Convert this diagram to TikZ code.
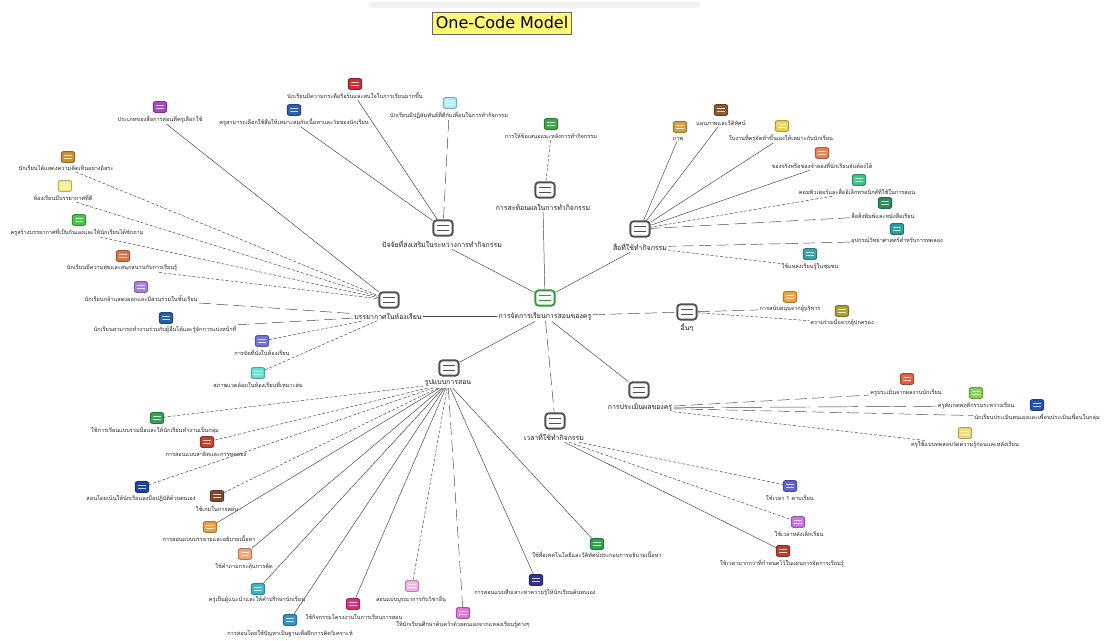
\documentclass[tikz,border=0pt]{standalone}
\usepackage{fontspec}
\newfontfamily\thaifont[Script=Thai]{Loma}
\newfontfamily\titlefont{DejaVu Sans}
\definecolor{hubgray}{HTML}{505050}
\definecolor{hubgreen}{HTML}{2E9A34}
\definecolor{cPurple}{HTML}{A848C8}
\definecolor{cBlueA}{HTML}{2E60B4}
\definecolor{cRedA}{HTML}{C8323C}
\definecolor{cCyanA}{HTML}{B0F0FA}
\definecolor{cGreenB}{HTML}{40A848}
\definecolor{cE1}{HTML}{C8923A}
\definecolor{cE2}{HTML}{F8F088}
\definecolor{cE3}{HTML}{48C848}
\definecolor{cE4}{HTML}{E07448}
\definecolor{cE5}{HTML}{A884E0}
\definecolor{cE6}{HTML}{2462A4}
\definecolor{cE7}{HTML}{7474E0}
\definecolor{cE8}{HTML}{66E6D6}
\definecolor{cC1}{HTML}{D4A444}
\definecolor{cC2}{HTML}{8C5C30}
\definecolor{cC3}{HTML}{F2D650}
\definecolor{cC4}{HTML}{EA8454}
\definecolor{cC5}{HTML}{44C486}
\definecolor{cC6}{HTML}{2E8C5C}
\definecolor{cC7}{HTML}{2E9EA0}
\definecolor{cC8}{HTML}{3CA4AC}
\definecolor{cD1}{HTML}{F2A444}
\definecolor{cD2}{HTML}{A8A434}
\definecolor{cH1}{HTML}{E06444}
\definecolor{cH2}{HTML}{88D458}
\definecolor{cH3}{HTML}{2454B4}
\definecolor{cH4}{HTML}{F4DC7C}
\definecolor{cF1}{HTML}{34A454}
\definecolor{cF2}{HTML}{C44434}
\definecolor{cF3}{HTML}{2444A4}
\definecolor{cF4}{HTML}{7C4C2C}
\definecolor{cF5}{HTML}{EAA444}
\definecolor{cF6}{HTML}{F2A878}
\definecolor{cF7}{HTML}{44B4CC}
\definecolor{cF8}{HTML}{3494C4}
\definecolor{cF9}{HTML}{D43484}
\definecolor{cF10}{HTML}{F4B8E8}
\definecolor{cF11}{HTML}{E478D8}
\definecolor{cF12}{HTML}{343488}
\definecolor{cF13}{HTML}{34A454}
\definecolor{cG1}{HTML}{6464D4}
\definecolor{cG2}{HTML}{C878E4}
\definecolor{cG3}{HTML}{B44434}
\tikzset{
  leaficon/.style={draw=#1!72!black, fill=#1, line width=0.8pt, rounded corners=1.6pt,
    minimum width=10pt, minimum height=8pt, inner sep=0pt,
    path picture={\draw[line width=0.7pt, #1!25!white]
      ([shift={(-3pt,1.3pt)}]path picture bounding box.center) -- ++(6pt,0pt)
      ([shift={(-3pt,-1.3pt)}]path picture bounding box.center) -- ++(6pt,0pt);}},
  hubicon/.style={draw=#1, fill=white, line width=1.4pt, rounded corners=2.5pt,
    minimum width=14.5pt, minimum height=11.5pt, inner sep=0pt,
    path picture={\draw[line width=1.3pt, #1]
      ([shift={(-4.5pt,1.8pt)}]path picture bounding box.center) -- ++(9pt,0pt)
      ([shift={(-4.5pt,-1.8pt)}]path picture bounding box.center) -- ++(9pt,0pt);}},
  lbl/.style={font=\thaifont\fontsize{4.2}{5}\selectfont, inner sep=0.8pt, text=black!85},
  hlbl/.style={font=\thaifont\fontsize{5.2}{6}\selectfont, inner sep=1pt, text=black!90},
  ln/.style={line width=0.35pt, draw=black!75},
  dln/.style={ln, dash pattern=on 2.2pt off 1.4pt},
  lln/.style={ln, dash pattern=on 9pt off 4pt},
  titlebox/.style={font=\titlefont\fontsize{12}{14}\selectfont, fill=yellow!55, draw=black!60,
    line width=0.5pt, inner xsep=2.5pt, minimum height=16.5pt}
}
\newcommand{\leafnode}[5]{%
  \node[leaficon=#2] (#1) at (#3) {};
  \node[lbl] (#1l) at (#4) {#5};}
\newcommand{\hubnode}[5]{%
  \node[hubicon=#2] (#1) at (#3) {};
  \node[hlbl] (#1l) at (#4) {#5};}
\begin{document}
\begin{tikzpicture}[x=0.75pt,y=-0.75pt]
\useasboundingbox (0,0) rectangle (1117,641);
\fill[black!5] (370,2) rectangle (700,8);
\node[titlebox] (title) at (502,23) {One-Code Model};

% hubs
\hubnode{cen}{hubgreen}{545,298}{545,316}{การจัดการเรียนการสอนของครู}
\hubnode{A}{hubgray}{443,228}{442,244}{ปัจจัยที่ส่งเสริมในระหว่างการทำกิจกรรม}
\hubnode{B}{hubgray}{545,190}{543,207}{การสะท้อนผลในการทำกิจกรรม}
\hubnode{C}{hubgray}{640,229}{640,247}{สื่อที่ใช้ทำกิจกรรม}
\hubnode{D}{hubgray}{687,312}{687,328}{อื่นๆ}
\hubnode{E}{hubgray}{389,300}{388,316}{บรรยากาศในห้องเรียน}
\hubnode{F}{hubgray}{449,368}{448,383}{รูปแบบการสอน}
\hubnode{G}{hubgray}{555,421}{554,437}{เวลาที่ใช้ทำกิจกรรม}
\hubnode{H}{hubgray}{639,390}{640,408}{การประเมินผลของครู}

% A group
\leafnode{a1}{cBlueA}{294,110}{294,122}{ครูสามารถเลือกใช้สื่อให้เหมาะสมกับเนื้อหาและวัยของนักเรียน}
\leafnode{a2}{cRedA}{355,84}{355,96}{นักเรียนมีความกระตือรือร้นและสนใจในการเรียนมากขึ้น}
\leafnode{a3}{cCyanA}{450,103}{449,115}{นักเรียนมีปฏิสัมพันธ์ที่ดีกับเพื่อนในการทำกิจกรรม}
% B group
\leafnode{b1}{cGreenB}{551,124}{551,136}{การให้ข้อเสนอแนะหลังการทำกิจกรรม}
% E group
\leafnode{e0}{cPurple}{160,107}{160,119}{ประเภทของสื่อการสอนที่ครูเลือกใช้}
\leafnode{e1}{cE1}{68,157}{66,168}{นักเรียนได้แสดงความคิดเห็นอย่างอิสระ}
\leafnode{e2}{cE2}{65,186}{63,198}{ห้องเรียนมีบรรยากาศที่ดี}
\leafnode{e3}{cE3}{79,220}{77,232}{ครูสร้างบรรยากาศที่เป็นกันเองและให้นักเรียนได้ซักถาม}
\leafnode{e4}{cE4}{123,256}{122,268}{นักเรียนมีความสุขและสนุกสนานกับการเรียนรู้}
\leafnode{e5}{cE5}{141,287}{141,299}{นักเรียนกล้าแสดงออกและมีส่วนร่วมในชั้นเรียน}
\leafnode{e6}{cE6}{166,318}{165,329}{นักเรียนสามารถทำงานร่วมกับผู้อื่นได้และรู้จักการแบ่งหน้าที่}
\leafnode{e7}{cE7}{262,341}{262,353}{การจัดที่นั่งในห้องเรียน}
\leafnode{e8}{cE8}{258,373}{258,385}{สภาพแวดล้อมในห้องเรียนที่เหมาะสม}
% C group
\leafnode{c1}{cC1}{680,127}{678,139}{ภาพ}
\leafnode{c2}{cC2}{721,110}{721,123}{แผนภาพและวีดิทัศน์}
\leafnode{c3}{cC3}{782,126}{781,138}{ใบงานที่ครูจัดทำขึ้นเองให้เหมาะกับนักเรียน}
\leafnode{c4}{cC4}{822,153}{822,166}{ของจริงหรือของจำลองที่นักเรียนจับต้องได้}
\leafnode{c5}{cC5}{859,180}{857,192}{คอมพิวเตอร์และสื่ออิเล็กทรอนิกส์ที่ใช้ในการสอน}
\leafnode{c6}{cC6}{885,203}{883,216}{สื่อสิ่งพิมพ์และหนังสือเรียน}
\leafnode{c7}{cC7}{897,229}{897,241}{อุปกรณ์วิทยาศาสตร์สำหรับการทดลอง}
\leafnode{c8}{cC8}{810,254}{810,267}{ใช้แหล่งเรียนรู้ในชุมชน}
% D group
\leafnode{d1}{cD1}{790,297}{790,309}{การสนับสนุนจากผู้บริหาร}
\leafnode{d2}{cD2}{842,311}{842,323}{ความร่วมมือจากผู้ปกครอง}
% H group
\leafnode{h1}{cH1}{907,379}{906,393}{ครูประเมินจากผลงานนักเรียน}
\leafnode{h2}{cH2}{976,393}{976,406}{ครูสังเกตพฤติกรรมระหว่างเรียน}
\leafnode{h3}{cH3}{1037,405}{1037,417}{นักเรียนประเมินตนเองและเพื่อนประเมินเพื่อนในกลุ่ม}
\leafnode{h4}{cH4}{965,433}{965,445}{ครูใช้แบบทดสอบวัดความรู้ก่อนและหลังเรียน}
% F group
\leafnode{f1}{cF1}{157,418}{155,431}{ใช้การเรียนแบบร่วมมือและให้นักเรียนทำงานเป็นกลุ่ม}
\leafnode{f2}{cF2}{207,442}{206,454}{การสอนแบบสาธิตและการทดลอง}
\leafnode{f3}{cF3}{142,487}{141,499}{สอนโดยเน้นให้นักเรียนลงมือปฏิบัติด้วยตนเอง}
\leafnode{f4}{cF4}{217,496}{217,509}{ใช้เกมในการสอน}
\leafnode{f5}{cF5}{210,527}{209,539}{การสอนแบบบรรยายและอธิบายเนื้อหา}
\leafnode{f6}{cF6}{245,554}{244,567}{ใช้คำถามกระตุ้นการคิด}
\leafnode{f7}{cF7}{258,589}{257,600}{ครูเป็นผู้แนะนำและให้คำปรึกษานักเรียน}
\leafnode{f8}{cF8}{290,620}{290,633}{การสอนโดยใช้ปัญหาเป็นฐานเพื่อฝึกการคิดวิเคราะห์}
\leafnode{f9}{cF9}{353,604}{354,617}{ใช้กิจกรรมโครงงานในการเรียนการสอน}
\leafnode{f10}{cF10}{412,586}{411,599}{สอนแบบบูรณาการกับวิชาอื่น}
\leafnode{f11}{cF11}{463,613}{463,625}{ให้นักเรียนศึกษาค้นคว้าด้วยตนเองจากแหล่งเรียนรู้ต่างๆ}
\leafnode{f12}{cF12}{536,580}{535,593}{การสอนแบบสืบเสาะหาความรู้ให้นักเรียนค้นพบเอง}
\leafnode{f13}{cF13}{597,544}{597,555}{ใช้สื่อเทคโนโลยีและวีดิทัศน์ประกอบการอธิบายเนื้อหา}
% G group
\leafnode{g1}{cG1}{790,486}{790,498}{ใช้เวลา 1 คาบเรียน}
\leafnode{g2}{cG2}{798,522}{799,534}{ใช้เวลาหลังเลิกเรียน}
\leafnode{g3}{cG3}{783,551}{782,563}{ใช้เวลามากกว่าที่กำหนดไว้ในแผนการจัดการเรียนรู้}

% connectors: centre
\draw[ln] (Al) -- (cen);
\draw[ln] (Bl) -- (cen);
\draw[ln] (cen) -- (Cl);
\draw[lln] (cenl) -- (D);
\draw[ln] (cenl) -- (El);
\draw[ln] (cenl) -- (F);
\draw[lln] (cenl) -- (G);
\draw[ln] (cenl) -- (H);
% A
\draw[ln] (a1l) -- (A);
\draw[ln] (a2l) -- (A);
\draw[lln] (a3l) -- (A);
% B
\draw[dln] (b1l) -- (B);
% E
\draw[ln] (e0l) -- (E);
\draw[dln] (e1l) -- (E);
\draw[dln] (e2l) -- (E);
\draw[dln] (e3l) -- (E);
\draw[dln] (e4l) -- (E);
\draw[lln] (e5l) -- (El);
\draw[lln] (e6l) -- (El);
\draw[dln] (e7) -- (El);
\draw[dln] (e8) -- (El);
% C
\draw[ln] (c1l) -- (C);
\draw[ln] (c2l) -- (C);
\draw[ln] (c3l) -- (C);
\draw[ln] (c4l) -- (C);
\draw[dln] (c5l) -- (C);
\draw[lln] (c6l) -- (C);
\draw[lln] (c7l) -- (Cl);
\draw[dln] (c8l) -- (Cl);
% D
\draw[lln] (D) -- (d1l);
\draw[dln] (D) -- (d2l);
% H
\draw[lln] (Hl) -- (h1l);
\draw[ln, dash pattern=on 30pt off 6pt] (Hl) -- (h2l);
\draw[lln] (Hl) -- (h3l);
\draw[dln] (Hl) -- (h4l);
% F
\draw[dln] (Fl) -- (f1);
\draw[dln] (Fl) -- (f2);
\draw[dln] (Fl) -- (f3);
\draw[dln] (Fl) -- (f4);
\draw[ln] (Fl) -- (f5);
\draw[ln] (Fl) -- (f6);
\draw[ln] (Fl) -- (f7);
\draw[ln] (Fl) -- (f8);
\draw[ln] (Fl) -- (f9);
\draw[dln] (Fl) -- (f10);
\draw[lln] (Fl) -- (f11);
\draw[ln] (Fl) -- (f12);
\draw[ln] (Fl) -- (f13);
% G
\draw[dln] (Gl) -- (g1);
\draw[dln] (Gl) -- (g2);
\draw[ln] (Gl) -- (g3);
\end{tikzpicture}
\end{document}
